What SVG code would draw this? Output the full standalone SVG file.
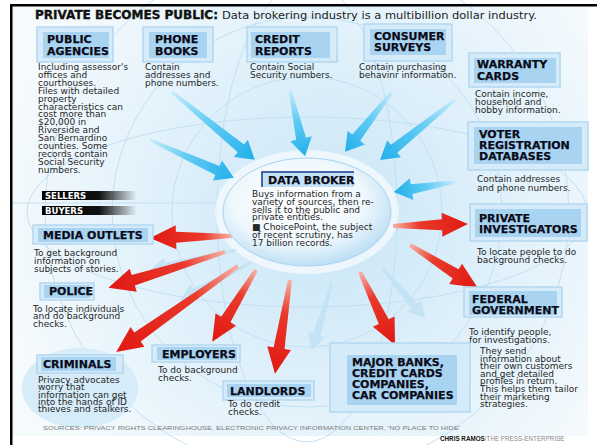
<svg xmlns="http://www.w3.org/2000/svg" width="597" height="445" viewBox="0 0 597 445">
<defs>
<radialGradient id="bgG" cx="330" cy="220" r="330" gradientUnits="userSpaceOnUse">
<stop offset="0" stop-color="#c9e6f7"/><stop offset="0.6" stop-color="#e3f2fb"/><stop offset="1" stop-color="#f5fafd"/>
</radialGradient>
<radialGradient id="brG" cx="0.45" cy="0.4" r="0.65">
<stop offset="0" stop-color="#ffffff"/><stop offset="0.6" stop-color="#f0f8fd"/><stop offset="1" stop-color="#b3daf3"/>
</radialGradient>
<linearGradient id="blG" x1="0" y1="0" x2="1" y2="0">
<stop offset="0" stop-color="#c6ecfb"/><stop offset="0.45" stop-color="#62cbf4"/><stop offset="1" stop-color="#22b0ea"/>
</linearGradient>
<linearGradient id="rdG" x1="0" y1="0" x2="1" y2="0">
<stop offset="0" stop-color="#f6b3a6"/><stop offset="0.35" stop-color="#ea3a2c"/><stop offset="1" stop-color="#e01812"/>
</linearGradient>
<linearGradient id="barG" x1="0" y1="0" x2="1" y2="0">
<stop offset="0" stop-color="#000"/><stop offset="0.6" stop-color="#111"/><stop offset="1" stop-color="#111" stop-opacity="0"/>
</linearGradient>
<style>
.h{font-family:"DejaVu Sans",sans-serif;font-weight:bold;font-size:11px;fill:#0b0b18;stroke:#0b0b18;stroke-width:0.25}
.d{font-family:"DejaVu Sans",sans-serif;font-size:9px;fill:#262626}
.ob{fill:#d5ebf9;stroke:#b2d7f0;stroke-width:1.5}
.ib{fill:#a8d4f2}
.ra{fill:url(#rdG)}
.ba{fill:url(#blG)}
.pa{fill:#bfe2f5;opacity:0.85}
.gl{fill:none;stroke:#c3e0f2;stroke-width:1}
</style>
</defs>

<rect x="0" y="0" width="597" height="445" fill="#ffffff"/>
<rect x="12" y="6" width="576" height="430" fill="url(#bgG)"/>
<g id="globe">
<circle class="gl" cx="307" cy="212" r="135"/>
<circle class="gl" cx="307" cy="212" r="195"/>
<circle class="gl" cx="307" cy="212" r="262"/>
<ellipse class="gl" cx="307" cy="212" rx="90" ry="230"/>
<ellipse class="gl" cx="307" cy="212" rx="280" ry="95"/>
<line class="gl" x1="12" y1="203" x2="230" y2="203"/>
</g>
<ellipse cx="80" cy="388" rx="58" ry="40" fill="#d6ecf9"/>
<ellipse cx="307" cy="212" rx="92" ry="62" fill="#ffffff" opacity="0.6"/>
<rect x="10" y="4" width="587" height="2.5" fill="#000"/>
<rect x="10" y="4" width="2.5" height="441" fill="#000"/>

<text x="35" y="18.5" font-family="DejaVu Sans, sans-serif" font-weight="bold" font-size="13" fill="#111" stroke="#111" stroke-width="0.4" textLength="183" lengthAdjust="spacingAndGlyphs">PRIVATE BECOMES PUBLIC:</text>
<text x="222" y="18.5" font-family="DejaVu Sans, sans-serif" font-size="10" fill="#222" textLength="315" lengthAdjust="spacingAndGlyphs">Data brokering industry is a multibillion dollar industry.</text>

<g id="connectors">
<path class="pa" d="M0,-1L72,-4L72,-9L88,0L72,9L72,4L0,1Z" transform="translate(236,250) rotate(166.9)"/>
<path class="pa" d="M0,-1L54,-4L54,-9L70,0L54,9L54,4L0,1Z" transform="translate(332,283) rotate(106.6)"/>
<path class="pa" d="M0,-1L50,-4L50,-9L66,0L50,9L50,4L0,1Z" transform="translate(382,268) rotate(49.3)"/>
<path class="pa" d="M0,-1L65,-4L65,-9L81,0L65,9L65,4L0,1Z" transform="translate(252,262) rotate(152.2)"/>

<path class="ba" d="M0,-1.5L89,-5L89,-11L107,0L89,11L89,5L0,1.5Z" transform="translate(172,92) rotate(39.3)"/>
<path class="ba" d="M0,-1.5L74,-5L74,-11L92,0L74,11L74,5L0,1.5Z" transform="translate(150,140) rotate(24.3)"/>
<path class="ba" d="M0,-1.5L50,-5L50,-11L68,0L50,11L50,5L0,1.5Z" transform="translate(290,90) rotate(77.2)"/>
<path class="ba" d="M0,-1.5L58,-5L58,-11L76,0L58,11L58,5L0,1.5Z" transform="translate(392,92) rotate(128.1)"/>
<path class="ba" d="M0,-1.5L78,-5L78,-11L96,0L78,11L78,5L0,1.5Z" transform="translate(455,100) rotate(141.3)"/>
<path class="ba" d="M0,-1.5L44,-5L44,-11L62,0L44,11L44,5L0,1.5Z" transform="translate(455,182) rotate(170.7)"/>

<path class="ra" d="M0,-2L56,-5.5L56,-12L82,0L56,12L56,5.5L0,2Z" transform="translate(232,236) rotate(178.6)"/>
<path class="ra" d="M0,-2L96,-5.5L96,-12L122,0L96,12L96,5.5L0,2Z" transform="translate(225,252) rotate(162.9)"/>
<path class="ra" d="M0,-2L123,-5.5L123,-12L149,0L123,12L123,5.5L0,2Z" transform="translate(238,266) rotate(144.8)"/>
<path class="ra" d="M0,-2L58,-5.5L58,-12L84,0L58,12L58,5.5L0,2Z" transform="translate(256,270) rotate(121.4)"/>
<path class="ra" d="M0,-2L69,-5.5L69,-12L95,0L69,12L69,5.5L0,2Z" transform="translate(290,280) rotate(99.1)"/>
<path class="ra" d="M0,-2L55,-5.5L55,-12L81,0L55,12L55,5.5L0,2Z" transform="translate(360,272) rotate(64.4)"/>
<path class="ra" d="M0,-2L54,-5.5L54,-12L80,0L54,12L54,5.5L0,2Z" transform="translate(410,245) rotate(32.3)"/>
<path class="ra" d="M0,-2L49,-5.5L49,-12L75,0L49,12L49,5.5L0,2Z" transform="translate(393,226) rotate(-1.5)"/>
</g>

<g id="data-broker">
<ellipse cx="307" cy="212" rx="84" ry="54" fill="url(#brG)" stroke="#a8d3ef" stroke-width="1"/>
<rect x="262" y="172" width="92" height="15" fill="#c3e2f7"/>
<path d="M262,187V172H354" fill="none" stroke="#1d3a8a" stroke-width="1.5"/>
<text class="h" x="268" y="184" font-size="10.5">DATA BROKER</text>
<text class="d" x="252" y="197"><tspan x="252">Buys information from a</tspan><tspan x="252" dy="7.8">variety of sources, then re-</tspan><tspan x="252" dy="7.8">sells it to the public and</tspan><tspan x="252" dy="7.8">private entities.</tspan><tspan x="252" dy="10">■ ChoicePoint, the subject</tspan><tspan x="252" dy="7.8">of recent scrutiny, has</tspan><tspan x="252" dy="7.8">17 billion records.</tspan></text>
</g>

<g id="public-agencies">
<rect class="ob" x="37" y="27" width="76" height="35"/><rect class="ib" x="43" y="32" width="66" height="26"/>
<text class="h" x="47" y="43">PUBLIC</text><text class="h" x="47" y="55">AGENCIES</text>
<text class="d" x="38" y="70"><tspan x="38">Including assessor's</tspan><tspan x="38" dy="7.9">offices and</tspan><tspan x="38" dy="7.9">courthouses.</tspan><tspan x="38" dy="7.9">Files with detailed</tspan><tspan x="38" dy="7.9">property</tspan><tspan x="38" dy="7.9">characteristics can</tspan><tspan x="38" dy="7.9">cost more than</tspan><tspan x="38" dy="7.9">$20,000 in</tspan><tspan x="38" dy="7.9">Riverside and</tspan><tspan x="38" dy="7.9">San Bernardino</tspan><tspan x="38" dy="7.9">counties. Some</tspan><tspan x="38" dy="7.9">records contain</tspan><tspan x="38" dy="7.9">Social Security</tspan><tspan x="38" dy="7.9">numbers.</tspan></text>
</g>

<g id="phone-books">
<rect class="ob" x="143" y="27" width="70" height="35"/><rect class="ib" x="149" y="32" width="58" height="26"/>
<text class="h" x="155" y="43">PHONE</text><text class="h" x="155" y="55">BOOKS</text>
<text class="d" x="145" y="70"><tspan x="145">Contain</tspan><tspan x="145" dy="7.8">addresses and</tspan><tspan x="145" dy="7.8">phone numbers.</tspan></text>
</g>

<g id="credit-reports">
<rect class="ob" x="247" y="27" width="90" height="35"/><rect class="ib" x="251" y="32" width="79" height="26"/>
<text class="h" x="255" y="43">CREDIT</text><text class="h" x="255" y="55">REPORTS</text>
<text class="d" x="250" y="70"><tspan x="250">Contain Social</tspan><tspan x="250" dy="7.8">Security numbers.</tspan></text>
</g>

<g id="consumer-surveys">
<rect class="ob" x="364" y="24" width="88" height="37"/><rect class="ib" x="370" y="29" width="76" height="26"/>
<text class="h" x="374" y="40">CONSUMER</text><text class="h" x="374" y="51">SURVEYS</text>
<text class="d" x="359" y="70"><tspan x="359">Contain purchasing</tspan><tspan x="359" dy="7.8">behavinr information.</tspan></text>
</g>

<g id="warranty-cards">
<rect class="ob" x="469" y="53" width="91" height="34"/><rect class="ib" x="474" y="58" width="82" height="25"/>
<text class="h" x="477" y="68" font-size="12">WARRANTY</text><text class="h" x="477" y="80" font-size="12">CARDS</text>
<text class="d" x="475" y="97"><tspan x="475">Contain income,</tspan><tspan x="475" dy="7.9">household and</tspan><tspan x="475" dy="7.9">hobby information.</tspan></text>
</g>

<g id="voter-registration">
<rect class="ob" x="468" y="122" width="120" height="48"/><rect class="ib" x="474" y="127" width="108" height="37"/>
<text class="h" x="479" y="138" font-size="12">VOTER</text><text class="h" x="479" y="149" font-size="12">REGISTRATION</text><text class="h" x="479" y="160" font-size="12">DATABASES</text>
<text class="d" x="477" y="182"><tspan x="477">Contain addresses</tspan><tspan x="477" dy="8.5">and phone numbers.</tspan></text>
</g>

<g id="private-investigators">
<rect class="ob" x="470" y="204" width="117" height="37"/><rect class="ib" x="475" y="209" width="106" height="28"/>
<text class="h" x="479" y="222">PRIVATE</text><text class="h" x="479" y="233">INVESTIGATORS</text>
<text class="d" x="477" y="255"><tspan x="477">To locate people to do</tspan><tspan x="477" dy="8">background checks.</tspan></text>
</g>

<g id="federal-government">
<rect class="ob" x="464" y="287" width="98" height="30"/><rect class="ib" x="469" y="291" width="88" height="24"/>
<text class="h" x="472" y="303">FEDERAL</text><text class="h" x="472" y="313.5">GOVERNMENT</text>
<text class="d" x="469" y="335"><tspan x="469">To identify people,</tspan><tspan x="469" dy="7.5">for investigations.</tspan></text>
<text class="d" x="480" y="354"><tspan x="480">They send</tspan><tspan x="480" dy="7.6">information about</tspan><tspan x="480" dy="7.6">their own customers</tspan><tspan x="480" dy="7.6">and get detailed</tspan><tspan x="480" dy="7.6">profiles in return.</tspan><tspan x="480" dy="7.6">This helps them tailor</tspan><tspan x="480" dy="7.6">their marketing</tspan><tspan x="480" dy="7.6">strategies.</tspan></text>
</g>

<g id="major-banks">
<rect class="ob" x="330" y="343" width="140" height="69"/><rect class="ib" x="347" y="355" width="110" height="50"/>
<text class="h" x="352" y="366" font-size="10.8">MAJOR BANKS,</text><text class="h" x="352" y="377" font-size="10.8">CREDIT CARDS</text><text class="h" x="352" y="388" font-size="10.8">COMPANIES,</text><text class="h" x="352" y="399" font-size="10.8">CAR COMPANIES</text>
</g>

<g id="landlords">
<rect class="ob" x="223" y="381" width="91" height="19"/><rect class="ib" x="227" y="384" width="84" height="13"/>
<text class="h" x="230" y="394.5">LANDLORDS</text>
<text class="d" x="228" y="407"><tspan x="228">To do credit</tspan><tspan x="228" dy="7.5">checks.</tspan></text>
</g>

<g id="employers">
<rect class="ob" x="152" y="345" width="88" height="17"/><rect class="ib" x="157" y="347" width="80" height="13"/>
<text class="h" x="162" y="357.5" font-size="10.6">EMPLOYERS</text>
<text class="d" x="158" y="373"><tspan x="158">To do background</tspan><tspan x="158" dy="7.5">checks.</tspan></text>
</g>

<g id="criminals">
<rect class="ob" x="37" y="355" width="86" height="18"/><rect class="ib" x="41" y="357" width="75" height="14"/>
<text class="h" x="43" y="368">CRIMINALS</text>
<text class="d" x="38" y="383"><tspan x="38">Privacy advocates</tspan><tspan x="38" dy="7.3">worry that</tspan><tspan x="38" dy="7.3">information can get</tspan><tspan x="38" dy="7.3">into the hands of ID</tspan><tspan x="38" dy="7.3">thieves and stalkers.</tspan></text>
</g>

<g id="police">
<rect class="ob" x="40" y="283" width="54" height="17"/><rect class="ib" x="44" y="285" width="46" height="13"/>
<text class="h" x="49" y="295" font-size="10.2">POLICE</text>
<text class="d" x="33" y="312"><tspan x="33">To locate individuals</tspan><tspan x="33" dy="7.3">and do background</tspan><tspan x="33" dy="7.3">checks.</tspan></text>
</g>

<g id="media-outlets">
<rect class="ob" x="33" y="225" width="120" height="19"/><rect class="ib" x="38" y="228" width="110" height="14"/>
<text class="h" x="43" y="239">MEDIA OUTLETS</text>
<text class="d" x="34" y="256"><tspan x="34">To get background</tspan><tspan x="34" dy="8">information on</tspan><tspan x="34" dy="8">subjects of stories.</tspan></text>
</g>

<g id="sellers-buyers">
<rect x="42" y="191" width="95" height="9" fill="url(#barG)"/>
<rect x="42" y="206" width="95" height="9" fill="url(#barG)"/>
<text x="45" y="199" font-family="DejaVu Sans, sans-serif" font-weight="bold" font-size="8.5" fill="#fff">SELLERS</text>
<text x="45" y="214" font-family="DejaVu Sans, sans-serif" font-weight="bold" font-size="8.5" fill="#fff">BUYERS</text>
</g>

<text x="43" y="430" font-family="Liberation Sans, sans-serif" font-size="6" fill="#7a7a7a" textLength="417" lengthAdjust="spacingAndGlyphs">SOURCES: PRIVACY RIGHTS CLEARINGHOUSE, ELECTRONIC PRIVACY INFORMATION CENTER, 'NO PLACE TO HIDE'</text>
<text x="440" y="441" font-family="Liberation Sans, sans-serif" font-size="6.3" fill="#888"><tspan font-weight="bold" fill="#111">CHRIS RAMOS</tspan>/THE PRESS-ENTERPRISE</text>
</svg>
